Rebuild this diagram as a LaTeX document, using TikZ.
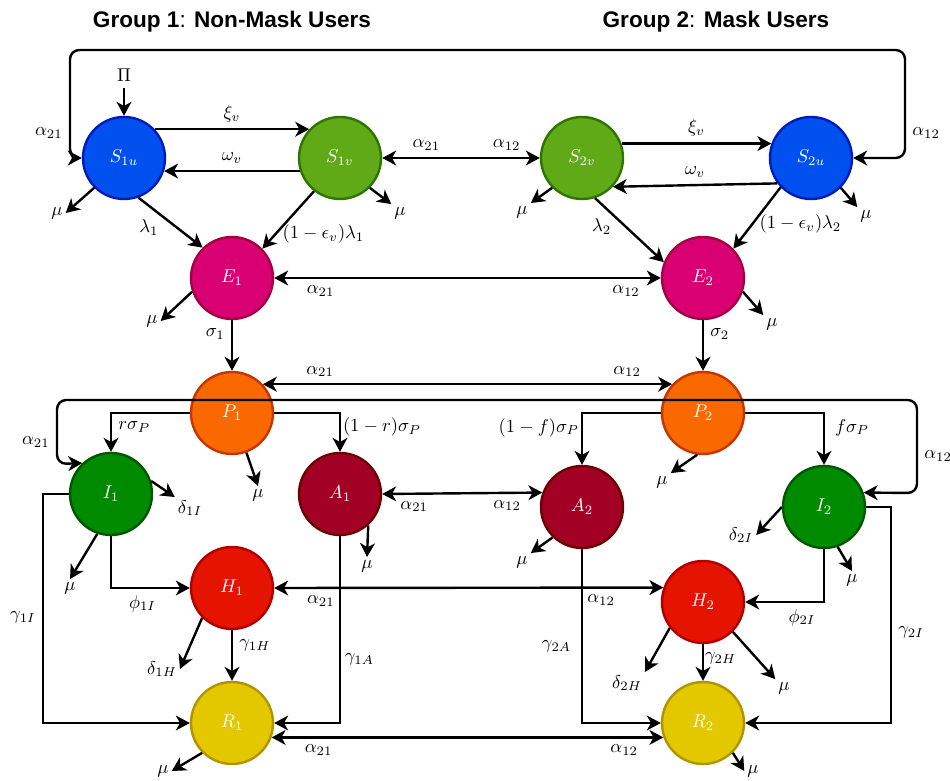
\documentclass[tikz,border=0pt]{standalone}
\usepackage{mathtools}
\usepackage{fontspec}
\newfontfamily\grpfont{Liberation Sans}
\usetikzlibrary{arrows.meta}
\definecolor{sublue}{HTML}{0050EF}
\definecolor{sublueD}{HTML}{001DBC}
\definecolor{svgreen}{HTML}{60A917}
\definecolor{svgreenD}{HTML}{2D7600}
\definecolor{expink}{HTML}{D80073}
\definecolor{expinkD}{HTML}{A50040}
\definecolor{preorange}{HTML}{FA6800}
\definecolor{preorangeD}{HTML}{C73500}
\definecolor{infgreen}{HTML}{008A00}
\definecolor{infgreenD}{HTML}{005700}
\definecolor{asycrimson}{HTML}{A20025}
\definecolor{asycrimsonD}{HTML}{6F0000}
\definecolor{hosred}{HTML}{E51400}
\definecolor{hosredD}{HTML}{B20000}
\definecolor{recyellow}{HTML}{E3C800}
\definecolor{recyellowD}{HTML}{B09500}
\begin{document}
\begin{tikzpicture}[x=0.019cm,y=-0.019cm,>={Stealth[length=7.5pt,width=8pt,inset=2.2pt]},
comp/.style={circle,draw,line width=1.3pt,minimum size=1.558cm,inner sep=0pt,text=white},
flow/.style={->,line width=1.3pt},
mix/.style={<->,line width=1.3pt},
sink/.style={inner sep=1.5pt},
grp/.style={font=\grpfont\fontsize{12.2}{14}\selectfont}]
\useasboundingbox (0,0) rectangle (950,781);
\node[grp] (g1) at (232,22) {\textbf{Group 1}: \textbf{Non-Mask Users}};
\node[grp] (g2) at (716,22) {\textbf{Group 2}: \textbf{Mask Users}};
\node[comp,fill=sublue,draw=sublueD] (S1u) at (124,158) {$S_{1u}$};
\node[comp,fill=svgreen,draw=svgreenD] (S1v) at (340,158) {$S_{1v}$};
\node[comp,fill=svgreen,draw=svgreenD] (S2v) at (582,158) {$S_{2v}$};
\node[comp,fill=sublue,draw=sublueD] (S2u) at (811,158) {$S_{2u}$};
\node[comp,fill=expink,draw=expinkD] (E1) at (232,278) {$E_1$};
\node[comp,fill=expink,draw=expinkD] (E2) at (703,278) {$E_2$};
\node[comp,fill=preorange,draw=preorangeD] (P1) at (232,413) {$P_1$};
\node[comp,fill=preorange,draw=preorangeD] (P2) at (703,413) {$P_2$};
\node[comp,fill=infgreen,draw=infgreenD] (I1) at (111,494) {$I_1$};
\node[comp,fill=asycrimson,draw=asycrimsonD] (A1) at (340,494) {$A_1$};
\node[comp,fill=asycrimson,draw=asycrimsonD] (A2) at (582,507) {$A_2$};
\node[comp,fill=infgreen,draw=infgreenD] (I2) at (824,507) {$I_2$};
\node[comp,fill=hosred,draw=hosredD] (H1) at (232,588) {$H_1$};
\node[comp,fill=hosred,draw=hosredD] (H2) at (703,602) {$H_2$};
\node[comp,fill=recyellow,draw=recyellowD] (R1) at (232,723) {$R_1$};
\node[comp,fill=recyellow,draw=recyellowD] (R2) at (703,723) {$R_2$};
\node (Pi) at (124,75) {$\Pi$};
\node[sink] (mu1u) at (57,213) {$\mu$};
\node[sink] (mu1v) at (400,213) {$\mu$};
\node[sink] (mu2v) at (522,212) {$\mu$};
\node[sink] (mu2u) at (866,216) {$\mu$};
\node[sink] (muE1) at (152,321) {$\mu$};
\node[sink] (muE2) at (772,324) {$\mu$};
\node[sink] (muP1) at (258,495) {$\mu$};
\node[sink] (muP2) at (662,482) {$\mu$};
\node[sink] (d1I) at (190,508) {$\delta_{1I}$};
\node[sink] (muI1) at (70,588) {$\mu$};
\node[sink] (muA1) at (367,566) {$\mu$};
\node[sink] (muA2) at (522,562) {$\mu$};
\node[sink] (d2I) at (741,535) {$\delta_{2I}$};
\node[sink] (muI2) at (852,580) {$\mu$};
\node[sink] (d1H) at (162,669) {$\delta_{1H}$};
\node[sink] (d2H) at (627,683) {$\delta_{2H}$};
\node[sink] (muH2) at (784,688) {$\mu$};
\node[sink] (muR1) at (163,771) {$\mu$};
\node[sink] (muR2) at (753,771) {$\mu$};
\draw[flow] (Pi) -- (S1u);
\draw[flow] (S1u.43) -- node[above] {$\xi_v$} (S1v.137);
\draw[flow] (S1v.-162) -- node[above] {$\omega_v$} (S1u.-18);
\draw[flow] (S2v.20) -- node[above] {$\xi_v$} (S2u.160);
\draw[flow] (S2u.-143) -- node[above] {$\omega_v$} (S2v.-43);
\draw[mix] (S1v) -- node[pos=0.28,above] {$\alpha_{21}$} node[pos=0.79,above] {$\alpha_{12}$} (S2v);
\draw[mix,rounded corners=5pt] (S1u.west) -- (70,158) -- node[pos=0.23,left] {$\alpha_{21}$} (70,50) -- (905,50) -- node[pos=0.77,right] {$\alpha_{12}$} (905,158) -- (S2u.east);
\draw[flow] (S1u.-70) -- node[pos=0.6,left=6pt] {$\lambda_1$} (E1.134);
\draw[flow] (S1v.232) -- node[pos=0.75,right] {$(1-\epsilon_v)\lambda_1$} (E1.44);
\draw[flow] (S2v.-72) -- node[pos=0.45,left=4pt] {$\lambda_2$} (E2.158);
\draw[flow] (S2u.224) -- node[pos=0.6,right] {$(1-\epsilon_v)\lambda_2$} (E2.44);
\draw[flow] (S1u.225) -- (mu1u.east);
\draw[flow] (S1v.-45) -- (mu1v.north west);
\draw[flow] (S2v.225) -- (mu2v.north east);
\draw[flow] (S2u.-45) -- (mu2u.north west);
\draw[mix] (E1) -- node[pos=0.12,below] {$\alpha_{21}$} node[pos=0.91,below] {$\alpha_{12}$} (E2);
\draw[flow] (E1.199) -- (muE1.east);
\draw[flow] (E2.-19) -- (muE2.north west);
\draw[flow] (E1) -- node[pos=0.28,left] {$\sigma_1$} (P1);
\draw[flow] (E2) -- node[pos=0.28,right] {$\sigma_2$} (P2);
\draw[mix] (P1.43) -- node[pos=0.14,above] {$\alpha_{21}$} node[pos=0.89,above] {$\alpha_{12}$} (P2.137);
\draw[mix,rounded corners=5pt] (I1.133) -- (57,464) -- node[pos=0.34,left] {$\alpha_{21}$} (57,400) -- (917,400) -- node[pos=0.6,right] {$\alpha_{12}$} (917,493) -- (I2.20);
\draw[flow] (P1.west) -| node[pos=0.68,right] {$r\sigma_P$} (I1.north);
\draw[flow] (P1.east) -| node[pos=0.68,right,inner sep=1pt] {$(1-r)\sigma_P$} (A1.north);
\draw[flow] (P2.west) -| node[pos=0.64,left,inner sep=1pt] {$(1-f)\sigma_P$} (A2.north);
\draw[flow] (P2.east) -| node[pos=0.64,right=2pt] {$f\sigma_P$} (I2.north);
\draw[flow] (P1.-70) -- (muP1.north);
\draw[flow] (P2.-98) -- (muP2.north east);
\draw[mix] (A1.east) -- node[pos=0.2,below] {$\alpha_{21}$} node[pos=0.78,below] {$\alpha_{12}$} (A2.160);
\draw[flow] (I1.18) -- (d1I.north west);
\draw[flow] (I1.-109) -- (muI1.north);
\draw[flow] (A1.-48) -- (muA1.north);
\draw[flow] (A2.-134) -- (muA2.north east);
\draw[flow] (I2.180) -- (d2I.east);
\draw[flow] (I2.-71) -- (muI2.north);
\draw[flow] (I1.south) |- node[pos=0.7,below] {$\phi_{1I}$} (H1.west);
\draw[flow] (I2.south) |- node[pos=0.64,below] {$\phi_{2I}$} (H2.east);
\draw[flow] (I1.west) -- (43,494) |- node[pos=0.27,left] {$\gamma_{1I}$} (R1.west);
\draw[flow] (A1.south) |- node[pos=0.33,right,inner sep=2pt] {$\gamma_{1A}$} (R1.east);
\draw[flow] (A2.south) |- node[pos=0.28,left=2pt] {$\gamma_{2A}$} (R2.west);
\draw[flow] (I2.east) -- (891,507) |- node[pos=0.29,right] {$\gamma_{2I}$} (R2.east);
\draw[mix] (H1.east) -- node[pos=0.12,below] {$\alpha_{21}$} node[pos=0.84,below] {$\alpha_{12}$} (H2.160);
\draw[flow] (H1) -- node[pos=0.3,right] {$\gamma_{1H}$} (R1);
\draw[flow] (H2) -- node[pos=0.38,right,inner sep=0.5pt] {$\gamma_{2H}$} (R2);
\draw[flow] (H1.-135) -- (d1H.east);
\draw[flow] (H2.-142) -- (d2H.north east);
\draw[flow] (H2.-45) -- (muH2.north west);
\draw[mix] (R1.-20) -- node[pos=0.12,below] {$\alpha_{21}$} node[pos=0.9,below] {$\alpha_{12}$} (R2.-160);
\draw[flow] (R1.-135) -- (muR1.east);
\draw[flow] (R2.-45) -- (muR2.west);
\end{tikzpicture}
\end{document}
